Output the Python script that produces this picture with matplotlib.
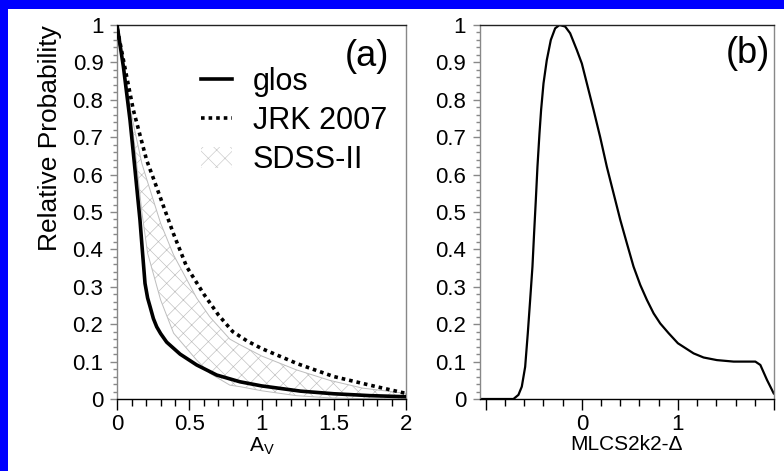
import matplotlib
matplotlib.use('Agg')
import matplotlib.pyplot as plt
from matplotlib.patches import Rectangle, Patch
from matplotlib.lines import Line2D
from matplotlib.ticker import MultipleLocator, FuncFormatter

plt.rcParams['font.family'] = ['Liberation Sans', 'DejaVu Sans']
plt.rcParams['mathtext.default'] = 'regular'
plt.rcParams['hatch.linewidth'] = 0.45
plt.rcParams['hatch.color'] = '#c8c8c8'

# panel (a): A_V distributions
glos_av = [0.0, 0.042, 0.088, 0.123, 0.157, 0.173, 0.192, 0.21, 0.227, 0.25, 0.273,
           0.30, 0.342, 0.435, 0.55, 0.689, 0.85, 1.0, 1.27, 1.5, 1.75, 2.0]
glos_p = [0.995, 0.889, 0.746, 0.612, 0.479, 0.40, 0.309, 0.27, 0.247, 0.215, 0.193,
          0.175, 0.152, 0.12, 0.091, 0.064, 0.046, 0.035, 0.021, 0.014, 0.009, 0.006]

jrk_av = [0.0, 0.065, 0.111, 0.203, 0.25, 0.296, 0.388, 0.48, 0.6, 0.7, 0.8, 0.9,
          1.0, 1.25, 1.5, 1.75, 2.0]
jrk_p = [0.99, 0.862, 0.773, 0.639, 0.59, 0.541, 0.443, 0.354, 0.28, 0.225, 0.18, 0.155,
         0.135, 0.094, 0.06, 0.037, 0.015]

sdss_av = [0.0, 0.06, 0.12, 0.17, 0.21, 0.30, 0.39, 0.55, 0.64, 0.78, 0.85,
           1.0, 1.24, 1.47, 1.7, 2.0]
sdss_lo = [0.98, 0.85, 0.68, 0.50, 0.39, 0.265, 0.176, 0.104, 0.069, 0.037, 0.033,
           0.022, 0.009, 0.003, 0.001, 0.0]
sdss_hi = [0.99, 0.83, 0.72, 0.63, 0.58, 0.47, 0.385, 0.27, 0.22, 0.16, 0.145,
           0.115, 0.078, 0.05, 0.029, 0.015]

# panel (b): MLCS2k2 Delta prior
delta = [-1.06, -0.712, -0.66, -0.625, -0.59, -0.5625, -0.538, -0.514, -0.497, -0.479,
         -0.462, -0.441, -0.424, -0.399, -0.365, -0.323, -0.278, -0.233, -0.174,
         -0.122, -0.052, 0.0, 0.122, 0.191, 0.26, 0.33, 0.40, 0.469, 0.538, 0.608,
         0.677, 0.747, 0.816, 0.903, 1.0, 1.163, 1.267, 1.406, 1.58, 1.806, 1.858,
         1.927, 1.997]
delta_p = [0.0, 0.0, 0.011, 0.033, 0.086, 0.176, 0.265, 0.354, 0.443, 0.532,
           0.621, 0.710, 0.773, 0.844, 0.906, 0.960, 0.991, 1.0, 0.996,
           0.978, 0.933, 0.897, 0.773, 0.70, 0.621, 0.55, 0.479, 0.416, 0.354, 0.305,
           0.265, 0.229, 0.202, 0.176, 0.149, 0.122, 0.111, 0.104, 0.10, 0.10, 0.091,
           0.051, 0.015]

fig = plt.figure(figsize=(7.84, 4.71), dpi=100, facecolor='#0000ff')
fig.patches.append(Rectangle((8/784, 0), 1, 1 - 9/471, transform=fig.transFigure,
                             facecolor='white', edgecolor='none', zorder=-10))

ax1 = fig.add_axes([117.3/784, 72/471, 288.7/784, 374/471])
ax2 = fig.add_axes([480/784, 72/471, 294/784, 374/471])

fmt = FuncFormatter(lambda v, pos: '%g' % round(v, 3))

for ax in (ax1, ax2):
    ax.set_ylim(0, 1)
    ax.yaxis.set_major_locator(MultipleLocator(0.1))
    ax.yaxis.set_minor_locator(MultipleLocator(0.02))
    ax.yaxis.set_major_formatter(fmt)
    ax.xaxis.set_major_formatter(fmt)
    ax.tick_params(axis='both', which='major', labelsize=16, direction='out')
    ax.tick_params(axis='x', which='major', length=8, width=1, pad=3)
    ax.tick_params(axis='x', which='minor', length=5, width=1, direction='out')
    ax.tick_params(axis='y', which='major', length=5, width=1, pad=5, color='#888888')
    ax.tick_params(axis='y', which='minor', length=3, width=1, direction='out', color='#888888')
    ax.spines['left'].set_color('#888888')
    ax.spines['right'].set_color('#888888')
    ax.spines['top'].set_color('#222222')
    for s in ax.spines.values():
        s.set_linewidth(1)

# (a)
ax1.fill_between(sdss_av, sdss_lo, sdss_hi, facecolor='white', edgecolor='#bdbdbd',
                 hatch='xx', linewidth=0.7, zorder=1)
ax1.plot(glos_av, glos_p, color='black', lw=2.6, zorder=3)
ax1.plot(jrk_av, jrk_p, color='black', lw=2.6, ls=(0, (1, 1.1)), zorder=3)
ax1.set_xlim(0, 2)
ax1.xaxis.set_major_locator(MultipleLocator(0.5))
ax1.xaxis.set_minor_locator(MultipleLocator(0.1))
ax1.set_xlabel('A$_V$', fontsize=15, labelpad=0)
ax1.text(0.865, 0.915, '(a)', transform=ax1.transAxes, fontsize=26, ha='center', va='center')

handles = [Line2D([], [], color='black', lw=2.6),
           Line2D([], [], color='black', lw=2.6, ls=(0, (1, 1.1))),
           Patch(facecolor='white', edgecolor='#c8c8c8', linewidth=0, hatch='xx')]
ax1.legend(handles, ['glos', 'JRK 2007', 'SDSS-II'], loc='upper left',
           bbox_to_anchor=(0.29, 0.888), frameon=False, fontsize=22,
           handlelength=1.0, handletextpad=0.7, labelspacing=0.3, borderaxespad=0,
           borderpad=0)

# (b)
ax2.plot(delta, delta_p, color='black', lw=1.6)
ax2.set_xlim(-1.06, 2.0)
ax2.xaxis.set_major_locator(MultipleLocator(1))
ax2.xaxis.set_minor_locator(MultipleLocator(0.2))
ax2.xaxis.set_major_formatter(FuncFormatter(lambda v, pos: '%g' % v if v >= 0 and v < 2 else ''))
ax2.set_xlabel('MLCS2k2-Δ', fontsize=15, labelpad=0)
ax2.text(0.91, 0.925, '(b)', transform=ax2.transAxes, fontsize=26, ha='center', va='center')

fig.text(50/784, 1 - 138/471, 'Relative Probability', rotation=90, fontsize=19,
         ha='center', va='center')

fig.savefig('out.png', dpi=100, facecolor=fig.get_facecolor())
